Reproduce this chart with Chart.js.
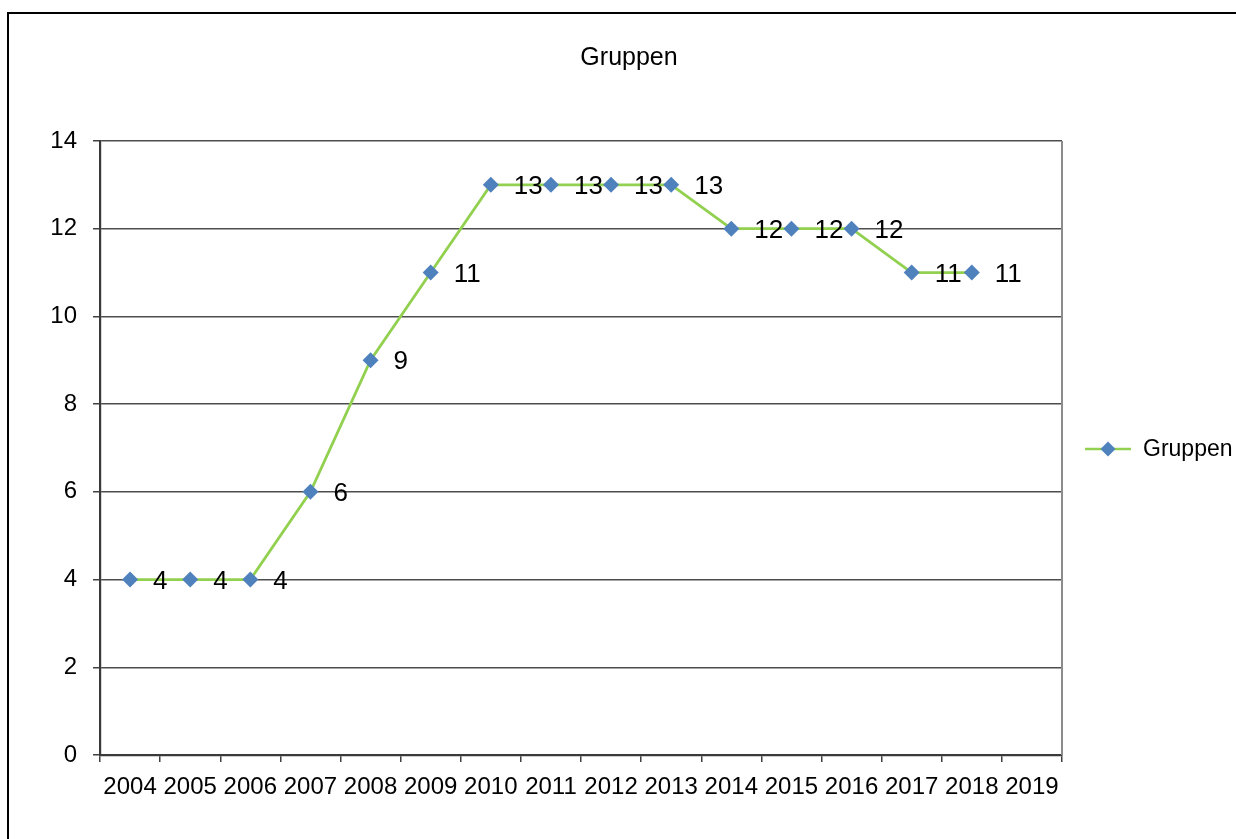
<!DOCTYPE html>
<html>
<head>
<meta charset="utf-8">
<title>Gruppen</title>
<script src="https://cdn.jsdelivr.net/npm/chart.js@4/dist/chart.umd.min.js"></script>
<style>
  html, body { margin: 0; padding: 0; background: #fff; overflow: hidden; }
  #wrap { position: relative; width: 1236px; height: 839px; }
</style>
</head>
<body>
<div id="wrap"><canvas id="chart" width="1236" height="839"></canvas></div>
<script>
// Jahre auf der x-Achse
const years = ['2004','2005','2006','2007','2008','2009','2010','2011','2012','2013','2014','2015','2016','2017','2018','2019'];
// Anzahl der Gruppen pro Jahr (2019 ohne Wert)
const groups = [4, 4, 4, 6, 9, 11, 13, 13, 13, 13, 12, 12, 12, 11, 11, null];
// Beschriftung der y-Achse
const yTicks = [0, 2, 4, 6, 8, 10, 12, 14];

const seriesName = 'Gruppen';
const chartTitle = 'Gruppen';
const FONT = '"Liberation Sans", Arial, sans-serif';
const lineColor = '#92d050';
const markerColor = '#4f81bd';

// Rahmen, Titel, Plotrand, Werte und Legende
const decorations = {
  id: 'decorations',
  beforeDraw(chart) {
    const ctx = chart.ctx;
    ctx.save();
    ctx.fillStyle = '#000';
    ctx.fillRect(7, 12, 2, chart.height);
    ctx.fillRect(7, 12, chart.width, 2);
    ctx.restore();
  },
  afterDatasetsDraw(chart) {
    const ctx = chart.ctx;
    const area = chart.chartArea;
    ctx.save();
    // rechter Plotrand
    ctx.strokeStyle = '#8c8c8c';
    ctx.lineWidth = 2;
    ctx.beginPath();
    ctx.moveTo(area.right, area.top);
    ctx.lineTo(area.right, area.bottom);
    ctx.stroke();

    // Titel
    ctx.fillStyle = '#000';
    ctx.font = '25px ' + FONT;
    ctx.textAlign = 'center';
    ctx.textBaseline = 'middle';
    ctx.fillText(chartTitle, 629, 58);

    // Datenbeschriftungen rechts neben den Punkten
    const meta = chart.getDatasetMeta(0);
    ctx.font = '26px ' + FONT;
    ctx.textAlign = 'left';
    ctx.textBaseline = 'middle';
    meta.data.forEach((pt, i) => {
      const v = groups[i];
      if (v === null || v === undefined) return;
      ctx.fillText(String(v), pt.x + 23, pt.y + 2);
    });

    // Legende
    const ly = 449;
    ctx.strokeStyle = lineColor;
    ctx.lineWidth = 2.5;
    ctx.beginPath();
    ctx.moveTo(1085, ly);
    ctx.lineTo(1131, ly);
    ctx.stroke();
    ctx.fillStyle = markerColor;
    ctx.beginPath();
    ctx.moveTo(1108, ly - 7.5);
    ctx.lineTo(1115.5, ly);
    ctx.lineTo(1108, ly + 7.5);
    ctx.lineTo(1100.5, ly);
    ctx.closePath();
    ctx.fill();
    ctx.fillStyle = '#000';
    ctx.font = '23px ' + FONT;
    ctx.textAlign = 'left';
    ctx.fillText(seriesName, 1143, ly + 1);
    ctx.restore();
  }
};

new Chart(document.getElementById('chart'), {
  type: 'line',
  data: {
    labels: years,
    datasets: [{
      label: seriesName,
      data: groups,
      borderColor: lineColor,
      borderWidth: 2.8,
      backgroundColor: markerColor,
      pointStyle: 'rectRot',
      pointRadius: 8,
      pointBorderWidth: 0,
      pointBorderColor: markerColor,
      pointBackgroundColor: markerColor,
      tension: 0,
      spanGaps: false
    }]
  },
  options: {
    responsive: false,
    animation: false,
    layout: { padding: { top: 141, right: 174, bottom: 0, left: 0 } },
    plugins: {
      legend: { display: false },
      title: { display: false },
      tooltip: { enabled: false }
    },
    scales: {
      x: {
        type: 'category',
        offset: true,
        afterFit(scale) { scale.height = 84; },
        grid: {
          offset: true,
          drawOnChartArea: false,
          drawTicks: true,
          tickLength: 7,
          color: '#404040',
          lineWidth: 1.5
        },
        border: { color: '#3a3a3a', width: 2.2 },
        ticks: {
          color: '#000',
          font: { family: FONT, size: 24 },
          padding: 11,
          maxRotation: 0,
          autoSkip: false
        }
      },
      y: {
        min: 0,
        max: 14,
        afterFit(scale) { scale.width = 100; },
        afterBuildTicks(scale) { scale.ticks = yTicks.map(v => ({ value: v })); },
        grid: {
          color: '#4d4d4d',
          lineWidth: 1.5,
          tickLength: 7,
          tickColor: '#404040'
        },
        border: { color: '#3a3a3a', width: 2.2 },
        ticks: {
          color: '#000',
          font: { family: FONT, size: 24 },
          padding: 16
        }
      }
    }
  },
  plugins: [decorations]
});
</script>
</body>
</html>
